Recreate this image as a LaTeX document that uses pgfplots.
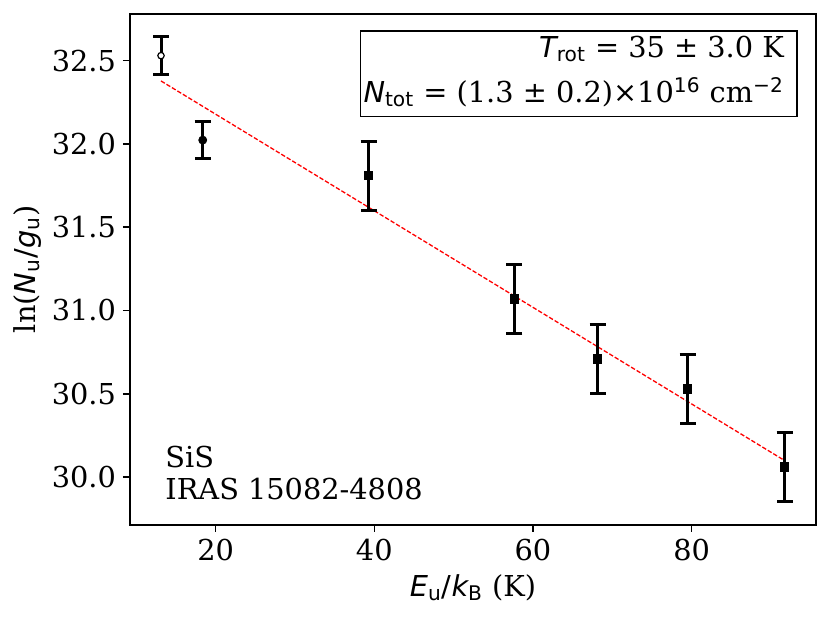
\documentclass[border=0pt]{standalone}
\usepackage{fontspec}
\setmainfont{DejaVu Serif}
\newfontfamily\dvs{DejaVu Sans}
\usepackage{pgfplots}
\pgfplotsset{compat=1.18}
\newcommand{\mi}[1]{{\dvs\itshape #1}}
\newcommand{\sbs}[1]{\textsubscript{\dvs #1}}
\newcommand{\sps}[1]{\textsuperscript{\dvs #1}}
\newcommand{\fs}{\fontsize{14.4bp}{17bp}\selectfont}

\pgfplotstableread{
x y e
13.11 32.530 0.112
}\openpt
\pgfplotstableread{
x y e
18.37 32.023 0.113
}\circpt
\pgfplotstableread{
x y e
39.29 31.810 0.207
57.65 31.070 0.207
68.16 30.710 0.207
79.50 30.530 0.207
91.73 30.060 0.207
}\sqpts

\begin{document}
\begin{tikzpicture}
\path[use as bounding box] (-65bp,-46.15bp) rectangle (350bp,262.35bp);
\begin{axis}[
  name=ax,
  at={(0,0)}, anchor=south west,
  scale only axis, width=343bp, height=255.35bp,
  xmin=9.2, xmax=95.68, ymin=29.714, ymax=32.78,
  xtick={20,40,60,80}, ytick={30,30.5,31,31.5,32,32.5},
  tick align=outside, major tick length=3.5bp,
  xtick pos=lower, ytick pos=left,
  every tick/.style={black, line width=0.8bp},
  axis line style={line width=0.8bp},
  tick label style={font=\fs},
  /pgf/number format/assume math mode=true,
  yticklabel style={/pgf/number format/.cd, fixed, fixed zerofill, precision=1},
  label style={font=\fs},
  xlabel={\mi{E}\sbs{u}{\dvs /}\mi{k}\sbs{B} (K)},
  ylabel={ln(\mi{N}\sbs{u}{\dvs /}\mi{g}\sbs{u})},
  xlabel style={at={(axis description cs:0.5,-0.1398)}, anchor=base, inner sep=0pt},
  ylabel style={at={(axis description cs:-0.14942,0.5)}, anchor=center, inner sep=0pt},
  clip=false,
]
\addplot[red, line width=0.65bp, dash pattern=on 2.2bp off 1bp] coordinates {(13.11,32.378) (91.73,30.099)};
\addplot[only marks, mark=*, mark size=1.6bp, mark options={fill=white, draw=black, line width=0.6bp},
  error bars/.cd, y dir=both, y explicit,
  error bar style={line width=1.5bp, black},
  error mark options={rotate=90, mark size=4bp, line width=1.5bp, black}]
  table[x=x, y=y, y error=e] {\openpt};
\addplot[only marks, mark=*, mark size=2bp, mark options={fill=black, draw=black},
  error bars/.cd, y dir=both, y explicit,
  error bar style={line width=1.5bp, black},
  error mark options={rotate=90, mark size=4bp, line width=1.5bp, black}]
  table[x=x, y=y, y error=e] {\circpt};
\addplot[only marks, mark=square*, mark size=2.1bp, mark options={fill=black, draw=black},
  error bars/.cd, y dir=both, y explicit,
  error bar style={line width=1.5bp, black},
  error mark options={rotate=90, mark size=4bp, line width=1.5bp, black}]
  table[x=x, y=y, y error=e] {\sqpts};
\end{axis}
\node[draw, line width=0.8bp, anchor=north east, inner sep=0pt,
  font=\fontsize{14.4bp}{22.5bp}\selectfont]
  at ([xshift=-9.15bp, yshift=-8bp]ax.north east)
  {\vtop{\baselineskip=22.5bp \lineskiplimit=-100pt \lineskip=0pt
    \halign{\hfil#\cr
      \rule{0pt}{13.35bp}\mi{T}\sbs{rot} = 35 ± 3.0 K\kern6.5bp\cr
      \kern1.5bp\mi{N}\sbs{tot} = (1.3 ± 0.2)×10\sps{16} cm\sps{−2}\rule[-7bp]{0pt}{0pt}\kern6.5bp\cr}}};
\node[anchor=base west, inner sep=0pt, font=\fs]
  at ([xshift=17.5bp, yshift=28.85bp]ax.south west) {SiS};
\node[anchor=base west, inner sep=0pt, font=\fs]
  at ([xshift=17.5bp, yshift=12.85bp]ax.south west) {IRAS 15082-4808};
\end{tikzpicture}
\end{document}
